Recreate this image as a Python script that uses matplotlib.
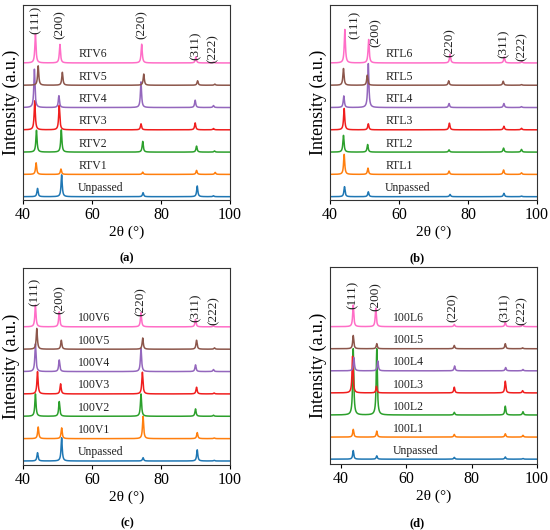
import numpy as np
import matplotlib
matplotlib.use("Agg")
import matplotlib.pyplot as plt

plt.rcParams['font.family'] = ['Liberation Serif', 'DejaVu Serif']

# ---------------- data ----------------
hkl = ["(111)", "(200)", "(220)", "(311)", "(222)"]
colors = ["#1f77b4", "#ff7f0e", "#2ca02c", "#f01e1e", "#9467bd", "#8c564b", "#ff6ec7"]

names_a = ["Unpassed", "RTV1", "RTV2", "RTV3", "RTV4", "RTV5", "RTV6"]
pos_a = [[44.2, 51.2, 74.8, 90.5, 95.2],
         [43.8, 51.0, 74.7, 90.3, 95.7],
         [43.9, 51.1, 74.7, 90.3, 95.5],
         [43.4, 50.5, 74.2, 89.9, 95.2],
         [43.3, 50.4, 74.2, 89.9, 95.2],
         [44.4, 51.4, 75.0, 90.6, 95.6],
         [43.6, 50.7, 74.4, 90.1, 95.2]]
hgt_a = [[0.37, 0.98, 0.18, 0.48, 0.04],
         [0.52, 0.24, 0.10, 0.18, 0.09],
         [0.98, 1.00, 0.48, 0.27, 0.05],
         [1.30, 1.10, 0.27, 0.31, 0.06],
         [1.72, 0.53, 1.15, 0.33, 0.09],
         [0.87, 0.58, 0.50, 0.20, 0.05],
         [1.30, 0.83, 0.84, 0.27, 0.04]]
lab_a_x = [43.7, 50.6, 74.4, 90.1, 95.0]
lab_a_y = [8.58, 8.36, 8.36, 7.42, 7.30]

names_b = ["Unpassed", "RTL1", "RTL2", "RTL3", "RTL4", "RTL5", "RTL6"]
pos_b = [[44.2, 51.1, 74.8, 90.4, 95.5],
         [44.1, 51.0, 74.5, 90.3, 95.5],
         [43.9, 50.9, 74.5, 90.3, 95.5],
         [44.1, 51.1, 74.6, 90.4, 95.5],
         [44.0, 51.1, 74.5, 90.4, 95.5],
         [43.9, 50.8, 74.4, 90.2, 95.5],
         [44.3, 51.2, 74.8, 90.5, 95.6]]
hgt_b = [[0.45, 0.22, 0.10, 0.15, 0.03],
         [0.90, 0.28, 0.15, 0.20, 0.07],
         [0.75, 0.34, 0.10, 0.18, 0.12],
         [0.96, 0.27, 0.30, 0.16, 0.07],
         [0.52, 1.97, 0.18, 0.18, 0.04],
         [0.75, 0.45, 0.20, 0.18, 0.03],
         [1.50, 1.05, 0.39, 0.27, 0.06]]
lab_b_x = [47.1, 53.3, 74.6, 90.3, 95.6]
lab_b_y = [8.36, 7.99, 7.54, 7.49, 7.36]

names_c = ["Unpassed", "100V1", "100V2", "100V3", "100V4", "100V5", "100V6"]
pos_c = [[44.2, 51.2, 74.8, 90.5, 95.4],
         [44.4, 51.2, 74.8, 90.5, 95.4],
         [43.6, 50.5, 74.2, 90.0, 95.2],
         [44.2, 50.9, 74.6, 90.3, 95.4],
         [43.6, 50.5, 74.2, 90.0, 95.2],
         [44.0, 51.1, 74.7, 90.3, 95.5],
         [43.6, 50.5, 74.2, 90.0, 95.2]]
hgt_c = [[0.37, 1.04, 0.15, 0.50, 0.03],
         [0.52, 0.48, 1.00, 0.27, 0.03],
         [1.00, 0.66, 1.00, 0.33, 0.05],
         [1.00, 0.45, 0.97, 0.30, 0.04],
         [1.24, 0.52, 1.04, 0.30, 0.09],
         [0.93, 0.40, 0.50, 0.40, 0.06],
         [0.97, 0.67, 0.63, 0.33, 0.05]]
lab_c_x = [43.4, 50.5, 74.2, 90.1, 95.2]
lab_c_y = [8.18, 7.88, 7.76, 7.51, 7.36]

names_d = ["Unpassed", "100L1", "100L2", "100L3", "100L4", "100L5", "100L6"]
pos_d = [[43.8, 51.0, 74.7, 90.3, 95.7],
         [43.8, 51.0, 74.7, 90.3, 95.7],
         [43.8, 51.0, 74.7, 90.3, 95.7],
         [43.6, 50.9, 74.7, 90.3, 95.6],
         [44.0, 51.3, 74.8, 90.4, 95.7],
         [43.8, 51.0, 74.7, 90.3, 95.6],
         [43.8, 50.7, 74.7, 90.3, 95.6]]
hgt_d = [[0.39, 0.15, 0.08, 0.10, 0.03],
         [0.35, 0.27, 0.12, 0.15, 0.08],
         [3.00, 3.00, 0.12, 0.40, 0.15],
         [1.66, 0.30, 0.26, 0.53, 0.10],
         [0.60, 0.45, 0.22, 0.15, 0.06],
         [0.60, 0.23, 0.15, 0.23, 0.04],
         [0.98, 0.83, 0.10, 0.20, 0.10]]
lab_d_x = [43.6, 50.8, 74.1, 90.0, 95.4]
lab_d_y = [8.10, 8.02, 7.50, 7.50, 7.36]

panels = [
    ("(a)", names_a, pos_a, hgt_a, lab_a_x, lab_a_y, (40, 100), (-0.15, 8.6)),
    ("(b)", names_b, pos_b, hgt_b, lab_b_x, lab_b_y, (40, 100), (-0.15, 8.6)),
    ("(c)", names_c, pos_c, hgt_c, lab_c_x, lab_c_y, (40, 100), (-0.18, 8.63)),
    ("(d)", names_d, pos_d, hgt_d, lab_d_x, lab_d_y, (36.7, 100), (-0.22, 8.7)),
]

rects = [
    [23 / 550, 0.6226, 207 / 550, 0.368],
    [330 / 550, 0.6226, 207 / 550, 0.368],
    [23 / 550, 0.1226, 207 / 550, 0.3717],
    [330 / 550, 0.1245, 207 / 550, 0.3717],
]
letter_pos = [(127 / 550, 1 - 258 / 530), (417 / 550, 1 - 258 / 530),
              (127 / 550, 1 - 523 / 530), (417 / 550, 1 - 523 / 530)]

fig = plt.figure(figsize=(5.5, 5.3), dpi=100)

hw = 0.2  # half width of line profile
for (letter, names, pos, hgt, lx, ly, xl, yl), rect, lp in zip(panels, rects, letter_pos):
    ax = fig.add_axes(rect)
    x = np.linspace(xl[0], xl[1], 8000)
    for i, name in enumerate(names):
        y = np.zeros_like(x)
        for p, h in zip(pos[i], hgt[i]):
            y += h * hw ** 2 / ((x - p) ** 2 + hw ** 2)
        ax.plot(x, y + i, color=colors[i], lw=1.1)
        ax.text(56, i + 0.38, name, fontsize=8.5, va='center', ha='left', color='#222222')
    for t, tx, ty in zip(hkl, lx, ly):
        ax.text(tx, ty, t, rotation=90, fontsize=9.5, ha='center', va='top', color='#222222')
    ax.set_xlim(*xl)
    ax.set_ylim(*yl)
    ax.set_xticks([40, 60, 80, 100])
    ax.set_yticks([])
    ax.tick_params(axis='x', labelsize=11.5, length=3, width=0.8, pad=2)
    for s in ax.spines.values():
        s.set_linewidth(0.8)
        s.set_color('#333333')
    ax.set_xlabel("2θ (°)", fontsize=11, labelpad=2)
    ax.set_ylabel("Intensity (a.u.)", fontsize=13, labelpad=2)
    fig.text(lp[0], lp[1], letter, fontsize=9, fontweight='bold', ha='center', va='center')

fig.savefig("out.png", dpi=100)
